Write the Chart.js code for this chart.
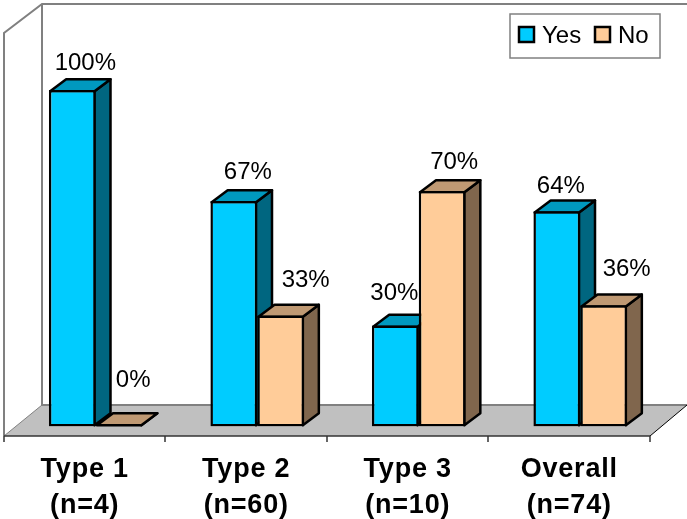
<!DOCTYPE html>
<html>
<head>
<meta charset="utf-8">
<title>Type chart</title>
<script src="https://cdn.jsdelivr.net/npm/chart.js@4"></script>
<style>
  html, body { margin: 0; padding: 0; background: #fff; }
  canvas { display: block; }
</style>
</head>
<body>
<canvas id="bars" width="687" height="519"></canvas>
<script>
const categories = [["Type 1", "(n=4)"], ["Type 2", "(n=60)"], ["Type 3", "(n=10)"], ["Overall", "(n=74)"]];
const yesValues = [100, 67, 30, 64];
const noValues = [0, 33, 70, 36];

const yesColors = { front: "#00CCFF", top: "#0099BF", side: "#006680" };
const noColors = { front: "#FFCC99", top: "#BF9973", side: "#80664D" };

// how far each % label sits from the middle of its bar top
const yesLabelShift = [[13, -27], [14, -29], [-1, -32], [4, -25]];
const noLabelShift = [[14, -46], [25, -35], [12, -29], [23, -36]];

const BAR_LINE = 2.5;
const BAR_DEPTH = { x: 16, y: 12 };
const FLOOR = { frontY: 436, backY: 405, backLeft: 42, backRight: 687 };
const AXIS_SHIFT = 11; // the axis runs along the front of the floor, bars stand further back

function poly(ctx, pts, fill, stroke, lw) {
  ctx.beginPath();
  pts.forEach((p, i) => (i ? ctx.lineTo(p[0], p[1]) : ctx.moveTo(p[0], p[1])));
  if (fill) {
    ctx.closePath();
    ctx.fillStyle = fill;
    ctx.fill();
  }
  if (stroke) {
    ctx.strokeStyle = stroke;
    ctx.lineWidth = lw;
    ctx.stroke();
  }
}

// walls, floor and the tick marks under it
const roomPlugin = {
  id: "room",
  beforeDraw(chart) {
    // bold axis labels are set a bit wide
    chart.ctx.letterSpacing = "0.8px";
  },
  beforeDatasetsDraw(chart) {
    const ctx = chart.ctx;
    const x = chart.scales.x;
    const frontLeft = x.left - AXIS_SHIFT;
    const frontRight = x.right - AXIS_SHIFT;
    ctx.save();
    poly(ctx, [[frontLeft, FLOOR.frontY], [FLOOR.backLeft, FLOOR.backY], [FLOOR.backRight, FLOOR.backY], [frontRight, FLOOR.frontY]], "#C0C0C0");
    poly(ctx, [[frontLeft, FLOOR.frontY], [frontLeft, 33], [FLOOR.backLeft, 4], [FLOOR.backRight, 4]], null, "#808080", 2);
    poly(ctx, [[FLOOR.backLeft, 4], [FLOOR.backLeft, FLOOR.backY], [FLOOR.backRight, FLOOR.backY]], null, "#808080", 2);
    poly(ctx, [[frontLeft, FLOOR.frontY], [FLOOR.backLeft, FLOOR.backY]], null, "#808080", 1);
    poly(ctx, [[frontRight, FLOOR.frontY], [FLOOR.backRight, FLOOR.backY]], null, "#000", 1);
    poly(ctx, [[frontLeft, FLOOR.frontY], [frontRight, FLOOR.frontY]], null, "#333", 1.5);
    for (let i = 0; i <= categories.length; i++) {
      const tx = Math.floor(frontLeft + (i * x.width) / categories.length);
      poly(ctx, [[tx, FLOOR.frontY], [tx, FLOOR.frontY + 6]], null, "#333", 1.5);
    }
    ctx.restore();
  },
};

// top and side faces of the bars, the library draws the fronts over them
const depthPlugin = {
  id: "depth",
  beforeDatasetsDraw(chart) {
    const ctx = chart.ctx;
    const dx = BAR_DEPTH.x;
    const dy = BAR_DEPTH.y;
    const inset = BAR_LINE / 2; // library borders sit inside the bar box
    ctx.save();
    ctx.lineJoin = "round";
    [yesColors, noColors].forEach((colors, d) => {
      chart.getDatasetMeta(d).data.forEach((bar) => {
        const l = bar.x - bar.width / 2 + inset;
        const r = bar.x + bar.width / 2 - inset;
        const t = Math.min(bar.y + inset, bar.base - inset);
        const b = bar.base - inset;
        poly(ctx, [[r, t], [r + dx, t - dy], [r + dx, b - dy], [r, b]], colors.side, "#000", BAR_LINE);
        poly(ctx, [[l, t], [l + dx, t - dy], [r + dx, t - dy], [r, t]], colors.top, "#000", BAR_LINE);
      });
    });
    ctx.restore();
  },
};

// % labels and the legend box
const textPlugin = {
  id: "texts",
  afterDatasetsDraw(chart) {
    const ctx = chart.ctx;
    ctx.save();
    ctx.letterSpacing = "0px";
    ctx.fillStyle = "#000";
    ctx.font = "24px 'Liberation Sans'";
    ctx.textAlign = "center";
    ctx.textBaseline = "middle";
    [yesLabelShift, noLabelShift].forEach((shifts, d) => {
      const values = chart.data.datasets[d].data;
      chart.getDatasetMeta(d).data.forEach((bar, i) => {
        ctx.fillText(values[i] + "%", bar.x + shifts[i][0], bar.y + shifts[i][1]);
      });
    });

    ctx.strokeStyle = "#808080";
    ctx.lineWidth = 1.5;
    ctx.fillStyle = "#fff";
    ctx.fillRect(510, 14, 150, 44);
    ctx.strokeRect(510, 14, 150, 44);
    ctx.font = "24px 'Liberation Sans'";
    ctx.textAlign = "left";
    [519, 595].forEach((sx, d) => {
      const ds = chart.data.datasets[d];
      ctx.fillStyle = ds.backgroundColor;
      ctx.fillRect(sx, 27, 15, 15);
      ctx.strokeStyle = "#000";
      ctx.lineWidth = BAR_LINE;
      ctx.strokeRect(sx, 27, 15, 15);
      ctx.fillStyle = "#000";
      ctx.fillText(ds.label, sx + 23, 36);
    });
    ctx.restore();
  },
};

new Chart(document.querySelector("#bars"), {
  type: "bar",
  data: {
    labels: categories,
    datasets: [
      { label: "Yes", data: yesValues, backgroundColor: yesColors.front, borderColor: "#000", borderWidth: BAR_LINE, borderSkipped: false },
      { label: "No", data: noValues, backgroundColor: noColors.front, borderColor: "#000", borderWidth: BAR_LINE, borderSkipped: false },
    ],
  },
  options: {
    responsive: false,
    animation: false,
    layout: { padding: { top: 90, left: 15, right: 26, bottom: 0 } },
    datasets: { bar: { categoryPercentage: 0.58, barPercentage: 1 } },
    plugins: { legend: { display: false }, tooltip: { enabled: false } },
    scales: {
      y: { display: false, min: 0, max: 100 },
      x: {
        afterFit(scale) {
          scale.height = 92.5;
        },
        border: { display: false },
        grid: { display: false },
        ticks: {
          padding: 17.5,
          labelOffset: -AXIS_SHIFT,
          maxRotation: 0,
          color: "#000",
          font: { family: "'Liberation Sans'", size: 27, weight: "bold", lineHeight: 1.33 },
        },
      },
    },
  },
  plugins: [roomPlugin, depthPlugin, textPlugin],
});
</script>
</body>
</html>
